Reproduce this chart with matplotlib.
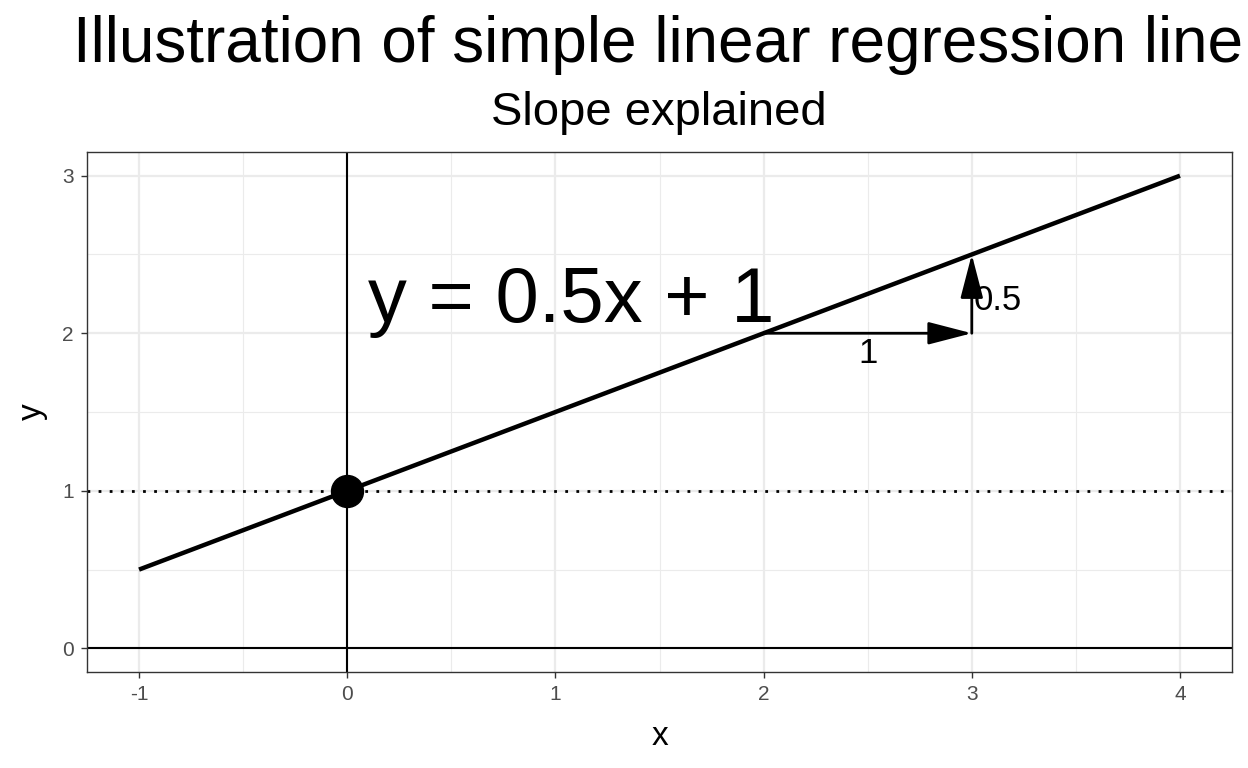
"""Simple linear regression line illustration: slope explained."""
import numpy as np
import matplotlib
matplotlib.use("Agg")
import matplotlib.pyplot as plt
from matplotlib.ticker import MultipleLocator

plt.rcParams["font.family"] = ["Liberation Sans", "DejaVu Sans"]
plt.rcParams["axes.unicode_minus"] = False

# data
line_x = [-1, 4]
line_y = [0.5, 3.0]
intercept = (0, 1)
run_start, run_end = (2, 2), (3, 2)
rise_start, rise_end = (3, 2), (3, 2.5)
xticks = [-1, 0, 1, 2, 3, 4]
yticks = [0, 1, 2, 3]

fig = plt.figure(figsize=(12.48, 7.68), dpi=100)
ax = fig.add_axes([0.0697, 0.125, 0.9175, 0.677])

ax.set_xlim(-1.25, 4.25)
ax.set_ylim(-0.15, 3.15)
ax.set_xticks(xticks)
ax.set_yticks(yticks)
ax.xaxis.set_minor_locator(MultipleLocator(0.5))
ax.yaxis.set_minor_locator(MultipleLocator(0.5))
ax.grid(which="major", color="#ebebeb", lw=1.6, zorder=0)
ax.grid(which="minor", color="#ebebeb", lw=0.8, zorder=0)
ax.set_axisbelow(True)
for s in ax.spines.values():
    s.set_color("#333333"); s.set_linewidth(1.0)
ax.tick_params(which="major", length=4.5, width=1, color="#333333",
               labelcolor="#4d4d4d", labelsize=15, pad=5)
ax.tick_params(which="minor", length=0)

ax.axhline(0, color="black", lw=1.5, zorder=2)
ax.axvline(0, color="black", lw=1.5, zorder=2)
ax.axhline(intercept[1], color="black", lw=2, ls=(0, (1, 3)), zorder=2)

ax.plot(line_x, line_y, color="black", lw=3.2, solid_capstyle="butt", zorder=3)
ax.plot(*intercept, "o", color="black", ms=23, zorder=4)

ap = dict(arrowstyle="-|>,head_length=1.35,head_width=0.35", mutation_scale=20,
          color="black", lw=2, shrinkA=0, shrinkB=0)
ax.annotate("", xy=run_end, xytext=run_start, arrowprops=ap, zorder=3)
ax.annotate("", xy=rise_end, xytext=rise_start, arrowprops=ap, zorder=3)

ax.text(0.1, 2.07, "y = 0.5x + 1", fontsize=56, ha="left", va="baseline")
ax.text(2.5, 1.81, "1", fontsize=25, ha="center", va="baseline")
ax.text(3.01, 2.15, "0.5", fontsize=25, ha="left", va="baseline")

ax.set_xlabel("x", fontsize=24, labelpad=12)
ax.set_ylabel("y", fontsize=24, labelpad=10)

fig.text(0.527, 0.919, "Illustration of simple linear regression line",
         fontsize=46, ha="center", va="baseline")
fig.text(0.528, 0.837, "Slope explained", fontsize=34, ha="center", va="baseline")

fig.savefig("out.png", dpi=100)
